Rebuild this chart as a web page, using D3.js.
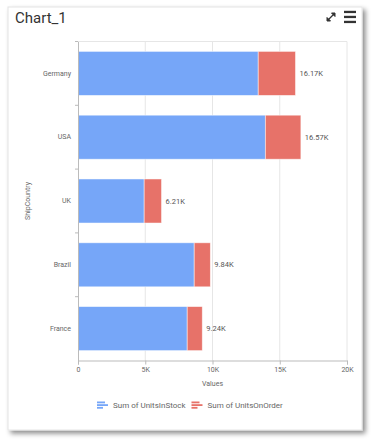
<!DOCTYPE html>
<html>
<head>
<meta charset="utf-8">
<script src="https://cdn.jsdelivr.net/npm/d3@7"></script>
<style>
  body { margin: 0; background: #fff; font-family: Roboto, "Noto Sans", sans-serif; }
</style>
</head>
<body>
<div id="vis"></div>
<script>
const countries = ["Germany", "USA", "UK", "Brazil", "France"];
const unitsInStock = [13400, 13930, 4920, 8640, 8120];
const unitsOnOrder = [2770, 2640, 1290, 1200, 1120];
const totalLabels = ["16.17K", "16.57K", "6.21K", "9.84K", "9.24K"];
const xTicks = [0, 5000, 10000, 15000, 20000];
const seriesNames = ["Sum of UnitsInStock", "Sum of UnitsOnOrder"];

function main() {
    const width = 374;
    const height = 444;
    const colours = ["#76a6f8", "#e77269"];

    const svg = d3.select("#vis").append("svg")
        .attr("width", width)
        .attr("height", height);

    // card with shadow
    const defs = svg.append("defs");
    const filter = defs.append("filter").attr("id", "shadow")
        .attr("x", "-10%").attr("y", "-10%").attr("width", "120%").attr("height", "120%");
    filter.append("feDropShadow")
        .attr("dx", 3).attr("dy", 3).attr("stdDeviation", 2.5)
        .attr("flood-color", "#000").attr("flood-opacity", 0.45);

    svg.append("rect")
        .attr("x", 8).attr("y", 7)
        .attr("width", 354).attr("height", 423)
        .attr("fill", "#fff")
        .attr("stroke", "#e4e4e4")
        .attr("filter", "url(#shadow)");

    svg.append("text")
        .attr("x", 15).attr("y", 23)
        .style("font-size", "15px")
        .style("fill", "#333")
        .text("Chart_1");

    // expand icon
    const ic = svg.append("g").attr("transform", "translate(331,17)");
    ic.append("path").attr("d", "M-3.5,3.5 L3.5,-3.5").attr("stroke", "#333").attr("stroke-width", 1.3);
    ic.append("path").attr("d", "M0.5,-4 L4,-4 L4,-0.5 Z").attr("fill", "#333").attr("stroke", "#333");
    ic.append("path").attr("d", "M-4,0.5 L-4,4 L-0.5,4 Z").attr("fill", "#333").attr("stroke", "#333");
    // hamburger icon
    [12, 17, 22].forEach(y => {
        svg.append("rect").attr("x", 344).attr("y", y - 1.2)
            .attr("width", 12).attr("height", 2.3).attr("fill", "#333");
    });

    const margin = { left: 78, right: 347, top: 41.5, bottom: 360.5 };

    const x = d3.scaleLinear()
        .domain([0, 20000])
        .range([margin.left, margin.right]);

    const y = d3.scaleBand()
        .domain(countries)
        .range([margin.top, margin.bottom])
        .paddingInner(0.31)
        .paddingOuter(0.155);

    // grid lines
    svg.append("g")
        .selectAll("line")
        .data(xTicks.slice(1))
        .enter().append("line")
        .attr("x1", d => x(d)).attr("x2", d => x(d))
        .attr("y1", margin.top).attr("y2", margin.bottom)
        .attr("stroke", "#e6e6e6");

    svg.append("line")
        .attr("x1", margin.left).attr("x2", margin.right)
        .attr("y1", margin.top).attr("y2", margin.top)
        .attr("stroke", "#e6e6e6");

    // stacked bars
    const stackData = countries.map((c, i) => ({ country: c, stock: unitsInStock[i], order: unitsOnOrder[i] }));
    const stack = d3.stack().keys(["stock", "order"])(stackData);

    svg.append("g")
        .selectAll("g")
        .data(stack)
        .enter().append("g")
        .attr("fill", (d, i) => colours[i])
        .selectAll("rect")
        .data(d => d)
        .enter().append("rect")
        .attr("x", d => x(d[0]))
        .attr("width", d => x(d[1]) - x(d[0]))
        .attr("y", d => y(d.data.country))
        .attr("height", y.bandwidth())
        .attr("stroke", "#fff")
        .attr("stroke-opacity", 0.6)
        .attr("stroke-width", 0.8);

    // total labels
    svg.append("g")
        .selectAll("text")
        .data(stackData)
        .enter().append("text")
        .attr("x", (d, i) => x(d.stock + d.order) + 4)
        .attr("y", d => y(d.country) + y.bandwidth() / 2)
        .attr("dy", "0.35em")
        .style("font-size", "7.5px")
        .style("fill", "#555")
        .text((d, i) => totalLabels[i]);

    // x axis
    const xAxis = svg.append("g")
        .attr("transform", "translate(0," + margin.bottom + ")")
        .call(d3.axisBottom(x).tickValues(xTicks).tickSize(4)
            .tickFormat(d => d === 0 ? "0" : (d / 1000) + "K"));
    xAxis.select(".domain").attr("stroke", "#bbb");
    xAxis.selectAll(".tick line").attr("stroke", "#bbb");
    xAxis.selectAll("text")
        .attr("y", 7)
        .style("font-family", "Roboto, sans-serif")
        .style("font-size", "7px")
        .style("fill", "#666");

    // y axis
    const yAxis = svg.append("g")
        .attr("transform", "translate(" + margin.left + ",0)")
        .call(d3.axisLeft(y).tickSize(0).tickPadding(7));
    yAxis.select(".domain").attr("stroke", "#bbb");
    yAxis.selectAll("text")
        .style("font-family", "Roboto, sans-serif")
        .style("font-size", "7px")
        .style("fill", "#666");

    // boundary ticks between categories
    const boundaries = countries.map(c => y(c) - y.step() * y.paddingInner() / 2);
    svg.append("g")
        .selectAll("line")
        .data(boundaries)
        .enter().append("line")
        .attr("x1", margin.left - 3).attr("x2", margin.left)
        .attr("y1", d => d).attr("y2", d => d)
        .attr("stroke", "#bbb");

    // axis titles
    svg.append("text")
        .attr("x", (margin.left + margin.right) / 2)
        .attr("y", 386)
        .style("text-anchor", "middle")
        .style("font-size", "7px")
        .style("fill", "#666")
        .text("Values");

    svg.append("text")
        .attr("transform", "translate(30," + ((margin.top + margin.bottom) / 2) + ") rotate(-90)")
        .style("text-anchor", "middle")
        .style("font-size", "7px")
        .style("fill", "#666")
        .text("ShipCountry");

    // legend, items laid out one after another
    const legend = svg.append("g").attr("transform", "translate(0,405)");
    let cursor = 97;
    seriesNames.forEach((name, i) => {
        const g = legend.append("g").attr("transform", "translate(" + cursor + ",0)");
        [[-3.5, 8], [-0.8, 11], [1.9, 6]].forEach(r => {
            g.append("rect")
                .attr("x", 0).attr("y", r[0])
                .attr("width", r[1]).attr("height", 1.8)
                .attr("fill", colours[i]);
        });
        const t = g.append("text")
            .attr("x", 16).attr("y", 0)
            .attr("dy", "0.35em")
            .style("font-size", "8px")
            .style("fill", "#666")
            .text(name);
        cursor += 16 + t.node().getComputedTextLength() + 6;
    });
}

main();
</script>
</body>
</html>
